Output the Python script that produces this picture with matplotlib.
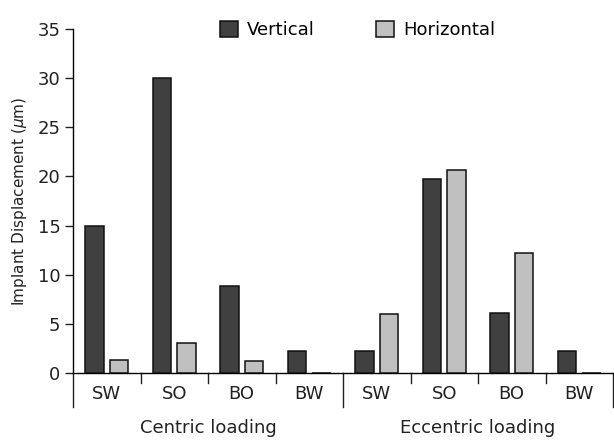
import matplotlib
matplotlib.use("Agg")
import matplotlib.pyplot as plt
import numpy as np

groups = ["Centric loading", "Eccentric loading"]
categories = ["SW", "SO", "BO", "BW", "SW", "SO", "BO", "BW"]
vertical = [15.0, 30.0, 8.9, 2.2, 2.2, 19.7, 6.1, 2.2]
horizontal = [1.3, 3.1, 1.2, 0.05, 6.0, 20.7, 12.2, 0.05]
yticks = [0, 5, 10, 15, 20, 25, 30, 35]

dark = "#404040"
light = "#c0c0c0"

fig = plt.figure(figsize=(6.14, 4.40), dpi=100)
ax = fig.add_axes([73/614, (440-373)/440, (613-73)/614, (373-29)/440])

x = np.arange(len(categories)) + 0.5
w = 0.27
ax.bar(x - 0.18, vertical, width=w, color=dark, edgecolor="#111111", linewidth=1.1, label="Vertical", zorder=3)
ax.bar(x + 0.18, horizontal, width=w, color=light, edgecolor="#111111", linewidth=1.1, label="Horizontal", zorder=3)

ax.set_xlim(0, len(categories))
ax.set_ylim(0, 35)
ax.set_yticks(yticks)
ax.tick_params(axis="y", labelsize=13, length=6, width=1, direction="out", pad=3, colors="#222222")
ax.set_xticks([])
for s in ["top", "right"]:
    ax.spines[s].set_visible(False)
ax.spines["left"].set_linewidth(1)
ax.spines["bottom"].set_linewidth(1)

upp = 35 / (373 - 29)
short = -10 * upp
long_ = -34 * upp
for k in range(len(categories) + 1):
    ybot = long_ if k % 4 == 0 else short
    ax.plot([k, k], [0, ybot], color="#222222", lw=1, clip_on=False)

for xi, c in zip(x, categories):
    ax.text(xi, -21 * upp, c, ha="center", va="center", fontsize=13, color="#222222")
for gi, g in enumerate(groups):
    ax.text(2 + 4 * gi, -55 * upp, g, ha="center", va="center", fontsize=13, color="#222222")

ax.set_ylabel("Implant Displacement ($\\mu$m)", fontsize=11, color="#222222", labelpad=6)

leg = ax.legend(loc="upper center", bbox_to_anchor=(0.527, 1.07), ncol=2, frameon=False,
                fontsize=13, handlelength=1.0, handleheight=1.0, columnspacing=3.4, handletextpad=0.5)

fig.savefig("out.png", dpi=100)
